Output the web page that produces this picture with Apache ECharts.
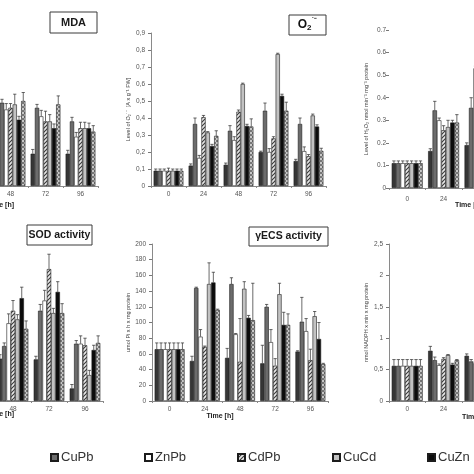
<!DOCTYPE html>
<html><head><meta charset="utf-8">
<script src="https://cdn.jsdelivr.net/npm/echarts@6/dist/echarts.min.js"></script>
<style>html,body{margin:0;padding:0;background:#fff}#c{width:474px;height:474px}</style>
</head><body><div id="c"></div>
<script>
// ---------- data ----------
const hours = ['0', '24', '48', '72', '96'];
const seriesNames = ['Control', 'CuPb', 'ZnPb', 'CdPb', 'CuCd', 'CuZn', 'CdZn'];
const legendShown = ['CuPb', 'ZnPb', 'CdPb', 'CuCd', 'CuZn'];

// MDA (axis cropped off in the reference; relative units)
const mdaMean = [
  [20, 22, 20, 19, 19], [20, 40, 49, 46, 38], [20, 35, 45, 41, 29], [20, 38, 46, 38, 34],
  [20, 36, 48, 38, 34], [20, 30, 39, 34, 34], [20, 42, 50, 48, 32]];
const mdaErr = [
  [2, 2, 2, 2.5, 2], [2, 2, 2, 2, 2.4], [2, 3, 3.5, 3.5, 2.5], [2, 3, 2.5, 6, 3.5],
  [2, 3, 6, 4, 3.5], [2, 3, 2, 2.5, 3], [2, 3, 5, 5, 3.5]];

// O2- level
const o2Mean = [
  [0.09, 0.12, 0.125, 0.20, 0.147], [0.09, 0.365, 0.325, 0.443, 0.365], [0.09, 0.165, 0.27, 0.20, 0.205],
  [0.09, 0.405, 0.437, 0.28, 0.175], [0.09, 0.315, 0.60, 0.776, 0.415], [0.09, 0.235, 0.353, 0.53, 0.35],
  [0.09, 0.295, 0.35, 0.443, 0.207]];
const o2Err = [
  [0.01, 0.01, 0.01, 0.005, 0.01], [0.01, 0.035, 0.03, 0.045, 0.035], [0.01, 0.015, 0.02, 0.02, 0.025],
  [0.015, 0.01, 0.01, 0.01, 0.01], [0.01, 0.005, 0.005, 0.005, 0.008], [0.01, 0.01, 0.01, 0.01, 0.01],
  [0.01, 0.03, 0.045, 0.05, 0.015]];

// H2O2 level
const h2o2Mean = [
  [0.11, 0.164, 0.19, 0.2, 0.17], [0.11, 0.344, 0.355, 0.38, 0.3], [0.11, 0.30, 0.53, 0.35, 0.28],
  [0.11, 0.256, 0.3, 0.3, 0.25], [0.11, 0.27, 0.32, 0.4, 0.3], [0.11, 0.29, 0.33, 0.35, 0.28],
  [0.11, 0.29, 0.3, 0.33, 0.26]];
const h2o2Err = [
  [0.01, 0.01, 0.01, 0.01, 0.01], [0.01, 0.04, 0.045, 0.03, 0.03], [0.01, 0.01, 0.01, 0.02, 0.02],
  [0.01, 0.02, 0.02, 0.02, 0.02], [0.01, 0.03, 0.02, 0.02, 0.02], [0.01, 0.01, 0.02, 0.02, 0.02],
  [0.01, 0.035, 0.02, 0.02, 0.02]];

// SOD activity (axis cropped off in the reference)
const sodMean = [
  [50, 50, 54, 53, 16], [50, 65, 70, 115, 73], [50, 80, 99, 128, 73], [50, 90, 115, 168, 71],
  [50, 85, 104, 112, 33], [50, 100, 131, 139, 65], [50, 75, 92, 112, 74]];
const sodErr = [
  [5, 5, 5, 4, 5], [5, 5, 4, 8, 4], [5, 8, 12, 13, 10], [5, 10, 13, 19, 9],
  [5, 6, 6, 6, 6], [5, 10, 14, 13, 6], [5, 8, 10, 12, 9]];

// gammaECS activity
const ecsMean = [
  [66, 51, 55, 48, 63], [66, 144, 149, 120, 101], [66, 82, 85, 75, 89], [66, 69, 50, 45, 52],
  [66, 149, 143, 136, 108], [66, 151, 106, 97, 79], [66, 116, 103, 97, 47]];
const ecsErr = [
  [8, 6, 12, 23, 1], [8, 1, 8, 3, 31], [8, 9, 1, 16, 16], [8, 1, 55, 9, 14],
  [8, 27, 9, 14, 6], [8, 13, 3, 16, 21], [8, 1, 47, 14, 1]];

// NADPH oxidase
const nadphMean = [
  [0.56, 0.80, 0.72, 0.70, 0.65], [0.56, 0.65, 0.63, 0.65, 0.60], [0.56, 0.57, 0.60, 0.60, 0.55],
  [0.56, 0.67, 0.65, 0.60, 0.60], [0.56, 0.73, 0.70, 0.65, 0.60], [0.56, 0.58, 0.60, 0.60, 0.55],
  [0.56, 0.65, 0.62, 0.60, 0.58]];
const nadphErr = [
  [0.1, 0.07, 0.03, 0.03, 0.03], [0.1, 0.05, 0.03, 0.03, 0.03], [0.1, 0.02, 0.03, 0.03, 0.03],
  [0.1, 0.02, 0.03, 0.03, 0.03], [0.1, 0.01, 0.03, 0.03, 0.03], [0.1, 0.02, 0.03, 0.03, 0.03],
  [0.1, 0.01, 0.03, 0.03, 0.03]];

// ---------- styles ----------
function makePattern(type) {
  const c = document.createElement('canvas');
  c.width = 4; c.height = 4;
  const g = c.getContext('2d');
  if (type === 'hatch') {
    g.fillStyle = '#e8e8e8'; g.fillRect(0, 0, 4, 4);
    g.strokeStyle = '#3a3a3a'; g.lineWidth = 1.1;
    g.beginPath();
    g.moveTo(0, 4); g.lineTo(4, 0);
    g.moveTo(-1, 1); g.lineTo(1, -1);
    g.moveTo(3, 5); g.lineTo(5, 3);
    g.stroke();
  } else {
    g.fillStyle = '#c8c8c8'; g.fillRect(0, 0, 4, 4);
    g.fillStyle = '#777777'; g.fillRect(0, 0, 2, 2); g.fillRect(2, 2, 2, 2);
  }
  return { image: c, repeat: 'repeat' };
}
const fills = ['#363636', '#6c6c6c', '#ffffff', makePattern('hatch'), '#c2c2c2', '#0c0c0c', makePattern('cross')];
const GAP = 0.15;
const FONT = 'Liberation Sans, Arial, sans-serif';

const panels = [
  { grid: { left: -77, top: 33, width: 175, height: 153 }, mean: mdaMean, err: mdaErr, max: 90, interval: 10, showY: false },
  { grid: { left: 151, top: 33, width: 175, height: 153 }, mean: o2Mean, err: o2Err, max: 0.9, interval: 0.1, showY: true,
    comma: true, name: 'Level of O\u2082\u02D9\u207B  [A x g\u207B\u00B9 FW]', nameGap: 20, labelMargin: 6, xMargin: 5 },
  { grid: { left: 389, top: 30, width: 182, height: 158 }, mean: h2o2Mean, err: h2o2Err, max: 0.7, interval: 0.1, showY: true,
    comma: false, noLine: true, name: 'Level of H\u2082O\u2082 nmol min\u207B\u00B9 mg\u207B\u00B9 protein', nameGap: 20, labelMargin: 3, xMargin: 8 },
  { grid: { left: -77, top: 244, width: 180, height: 157 }, mean: sodMean, err: sodErr, max: 200, interval: 20, showY: false, xMargin: 5 },
  { grid: { left: 152, top: 244, width: 176, height: 157 }, mean: ecsMean, err: ecsErr, max: 200, interval: 20, showY: true,
    comma: true, name: 'umol Pi x h x mg protein', nameGap: 21, labelMargin: 6, xMargin: 5 },
  { grid: { left: 389, top: 244, width: 182, height: 157 }, mean: nadphMean, err: nadphErr, max: 2.5, interval: 0.5, showY: true,
    comma: true, name: 'nmol NADPH x min x mg protein', nameGap: 20, labelMargin: 6, xMargin: 5 }
];

function errRender(params, api) {
  const cat = api.value(0), s = api.value(1), v = api.value(2), e = api.value(3);
  const band = api.size([1, 0])[0];
  const bw = band * (1 - GAP) / seriesNames.length;
  const base = api.coord([cat, v]);
  const top = api.coord([cat, v + e]);
  const x = base[0] + (s - (seriesNames.length - 1) / 2) * bw;
  const cap = Math.max(1.3, bw * 0.38);
  const st = { stroke: '#2a2a2a', lineWidth: 0.7 };
  return { type: 'group', children: [
    { type: 'line', shape: { x1: x, y1: base[1], x2: x, y2: top[1] }, style: st },
    { type: 'line', shape: { x1: x - cap, y1: top[1], x2: x + cap, y2: top[1] }, style: st }
  ] };
}

const grids = [], xAxes = [], yAxes = [], series = [];
panels.forEach((p, i) => {
  grids.push(Object.assign({ containLabel: false, outerBoundsMode: 'none' }, p.grid));
  xAxes.push({
    type: 'category', gridIndex: i, data: hours,
    axisLine: { show: true, lineStyle: { color: '#8a8a8a', width: 1 } },
    axisTick: { show: true, length: 2, lineStyle: { color: '#8a8a8a' } },
    axisLabel: { fontSize: 6.5, color: '#555', margin: p.xMargin || 5, fontFamily: FONT },
    splitLine: { show: false }
  });
  yAxes.push({
    type: 'value', gridIndex: i, min: 0, max: p.max, interval: p.interval, show: p.showY,
    name: p.name || '', nameLocation: 'middle', nameGap: p.nameGap || 20, nameRotate: 90,
    nameTextStyle: { fontSize: 5.5, color: '#444', fontFamily: FONT },
    axisLine: { show: !p.noLine, lineStyle: { color: '#8a8a8a', width: 1 } },
    axisTick: { show: true, length: 3, lineStyle: { color: '#777' } },
    axisLabel: { fontSize: 6.5, color: '#555', margin: p.labelMargin || 6, fontFamily: FONT,
      formatter: v => { const t = String(Number(v.toFixed(2))); return p.comma ? t.replace('.', ',') : t; } },
    splitLine: { show: false }
  });
  seriesNames.forEach((nm, s) => {
    series.push({
      type: 'bar', name: nm, xAxisIndex: i, yAxisIndex: i, data: p.mean[s],
      barGap: '0%', barCategoryGap: (GAP * 100) + '%',
      itemStyle: { color: fills[s], borderColor: '#1c1c1c', borderWidth: 0.6 },
      emphasis: { disabled: true }, animation: false
    });
  });
  const eData = [];
  seriesNames.forEach((nm, s) => p.mean[s].forEach((v, c) => eData.push([c, s, v, p.err[s][c]])));
  series.push({
    type: 'custom', name: 'err' + i, xAxisIndex: i, yAxisIndex: i, data: eData,
    encode: { x: 0, y: 2 }, renderItem: errRender, animation: false, z: 5, silent: true
  });
});

const legendX = [50, 144, 237, 332, 427];
const legends = legendShown.map((nm, k) => ({
  data: [nm], left: legendX[k], top: 451, orient: 'horizontal', icon: 'rect',
  itemWidth: 7, itemHeight: 7, padding: 0, itemGap: 0, selectedMode: false,
  textStyle: { fontSize: 13, color: '#333', fontFamily: FONT, padding: [0, 0, 0, -2] }
}));

function box(x, y, w, h) {
  return { type: 'rect', shape: { x, y, width: w, height: h }, style: { fill: '#fff', stroke: '#3a3a3a', lineWidth: 1 }, z: 10 };
}
function label(x, y, text, size, weight, align) {
  return { type: 'text', x, y, z: 11, style: { text, fontSize: size, fontWeight: weight || 'normal', fontFamily: FONT, fill: '#1a1a1a',
    align: align || 'center', verticalAlign: 'middle', textAlign: align || 'center', textVerticalAlign: 'middle' } };
}

const graphics = [
  box(50, 12, 47, 21), label(73.5, 22.5, 'MDA', 11, 'bold'),
  box(289, 15, 37, 20),
  { type: 'text', x: 307.5, y: 25, z: 11, style: { text: '{a|O}{b|2}{c|\u02D9\u207B}', align: 'center', verticalAlign: 'middle',
    textAlign: 'center', textVerticalAlign: 'middle',
    rich: { a: { fontSize: 12, fontWeight: 'bold', fontFamily: FONT, fill: '#111' },
            b: { fontSize: 8, fontWeight: 'bold', fontFamily: FONT, fill: '#111', padding: [6, 0, 0, 0] },
            c: { fontSize: 8, fontWeight: 'bold', fontFamily: FONT, fill: '#111', padding: [0, 0, 8, 0] } } } },
  box(27, 225, 65, 20), label(59.5, 235, 'SOD activity', 10.5, 'bold'),
  box(249, 227, 79, 19), label(288.5, 236.5, '\u03B3ECS activity', 10.5, 'bold'),
  label(14, 205, 'Time [h]', 7, 'bold', 'right'),
  label(455, 205, 'Time [h]', 7, 'bold', 'left'),
  label(14, 414, 'Time [h]', 7, 'bold', 'right'),
  label(220, 416, 'Time [h]', 7, 'bold', 'center'),
  label(462, 417, 'Time [h]', 7, 'bold', 'left')
];

const chart = echarts.init(document.getElementById('c'), null, { renderer: 'canvas' });
chart.setOption({
  backgroundColor: '#fff', animation: false,
  grid: grids, xAxis: xAxes, yAxis: yAxes, series, legend: legends, graphic: graphics
});
</script>
</body></html>
